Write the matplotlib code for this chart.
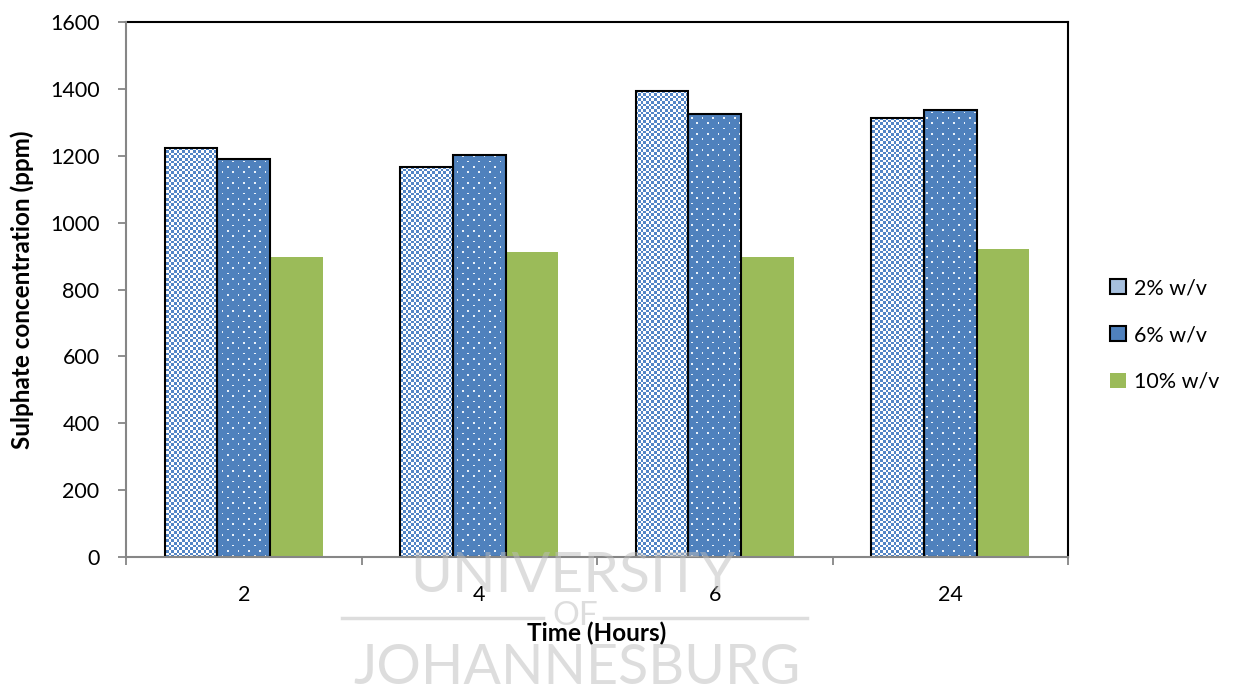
import numpy as np
import matplotlib
matplotlib.use("Agg")
import matplotlib.pyplot as plt
from matplotlib.patches import Patch
from matplotlib.lines import Line2D

plt.rcParams['font.family'] = ['Lato', 'DejaVu Sans']

# Sulphate concentration (ppm) by leaching time and solid loading
times = ["2", "4", "6", "24"]
series_labels = ["2% w/v", "6% w/v", "10% w/v"]
conc_2 = [1223, 1166, 1394, 1313]
conc_6 = [1190, 1202, 1325, 1337]
conc_10 = [897, 912, 898, 921]

BLUE = np.array([0x4F, 0x81, 0xBD], dtype=np.uint8)
CHECK_BLUE = np.array([0x52, 0x85, 0xC6], dtype=np.uint8)
WHITE = np.array([255, 255, 255], dtype=np.uint8)
GREEN = "#9BBB59"

W_PX, H_PX = 1237, 688
fig = plt.figure(figsize=(W_PX / 100, H_PX / 100), dpi=100)
ax_l, ax_r, ax_b, ax_t = 126, 1068, 557, 22
ax = fig.add_axes([ax_l / W_PX, 1 - ax_b / H_PX, (ax_r - ax_l) / W_PX, (ax_b - ax_t) / H_PX])
ax.patch.set_alpha(0)

ax.set_xlim(-0.5, 3.5)
ax.set_ylim(0, 1600)

# fill textures, built at 3 sub-pixels per screen pixel
S = 3
aw, ah = (ax_r - ax_l) * S, (ax_b - ax_t) * S
yy, xx = np.mgrid[0:ah, 0:aw]
checker = ((yy // 8 + xx // 8) % 2).astype(bool)
tex_check = np.where(checker[..., None], CHECK_BLUE, WHITE).astype(np.uint8)
row = yy // 16
dot = ((yy % 16) < 5) & (((xx + (row % 2) * 16) % 32) < 5)
tex_dots = np.where(dot[..., None], np.array([235, 242, 250], dtype=np.uint8), BLUE).astype(np.uint8)

x = np.arange(len(times))
bw = 0.223

def textured_bars(xpos, values, tex):
    bars = ax.bar(xpos, values, bw, facecolor="none", edgecolor="black", linewidth=1.5, zorder=3)
    for b in bars:
        im = ax.imshow(tex, extent=(-0.5, 3.5, 0, 1600), origin="upper",
                       aspect="auto", interpolation="nearest", zorder=2)
        im.set_clip_path(b)
    return bars

textured_bars(x - bw, conc_2, tex_check)
textured_bars(x, conc_6, tex_dots)
ax.bar(x + bw, conc_10, bw, color=GREEN, edgecolor="none", zorder=2)
ax.set_xlim(-0.5, 3.5)
ax.set_ylim(0, 1600)

# axes frame
for side in ("top", "right"):
    ax.spines[side].set_color("black")
    ax.spines[side].set_linewidth(1.5)
for side in ("left", "bottom"):
    ax.spines[side].set_color("#868686")
    ax.spines[side].set_linewidth(1.5)
    ax.spines[side].set_zorder(4)

ax.set_yticks(np.arange(0, 1601, 200))
ax.tick_params(axis="y", direction="out", length=6, width=1.3, color="#868686",
               labelsize=15.5, pad=13, labelcolor="black")
ax.set_xticks(x)
ax.set_xticklabels(times)
ax.set_xticks(np.arange(-0.5, 3.6, 1), minor=True)
ax.tick_params(axis="x", which="major", length=0, labelsize=15.5, pad=20)
ax.tick_params(axis="x", which="minor", direction="out", length=6, width=1.3, color="#868686")

fig.text(22 / W_PX, 1 - 290 / H_PX, "Sulphate concentration (ppm)", rotation=90,
         ha="center", va="center", fontsize=17.5, fontweight="bold")
fig.text(597 / W_PX, 1 - 633 / H_PX, "Time (Hours)", ha="center", va="center",
         fontsize=17.5, fontweight="bold")

handles = [
    Patch(facecolor="#A7C0DE", edgecolor="black", linewidth=1.5),
    Patch(facecolor="#4F81BD", edgecolor="black", linewidth=1.5),
    Patch(facecolor=GREEN, edgecolor="none"),
]
fig.legend(handles, series_labels, loc="center left", bbox_to_anchor=(1110 / W_PX, 1 - 335 / H_PX),
           frameon=False, fontsize=15.5, handlelength=0.75, handleheight=0.75,
           handletextpad=0.35, labelspacing=1.25, borderpad=0, borderaxespad=0)

# institutional watermark
wm = dict(color="#bcbcbc", alpha=0.5, ha="center", va="baseline", fontweight="normal", zorder=10)
fig.text(573 / W_PX, 1 - 592 / H_PX, "UNIVERSITY", fontsize=41, **wm)
fig.text(575 / W_PX, 1 - 625 / H_PX, "OF", fontsize=24, **wm)
fig.text(577 / W_PX, 1 - 684 / H_PX, "JOHANNESBURG", fontsize=40, **wm)
for xa, xb in ((342, 543), (604, 807)):
    fig.add_artist(Line2D([xa / W_PX, xb / W_PX], [1 - 618 / H_PX] * 2,
                          transform=fig.transFigure, color="#bcbcbc", alpha=0.5, lw=2.5))

fig.savefig("out.png", dpi=100)
